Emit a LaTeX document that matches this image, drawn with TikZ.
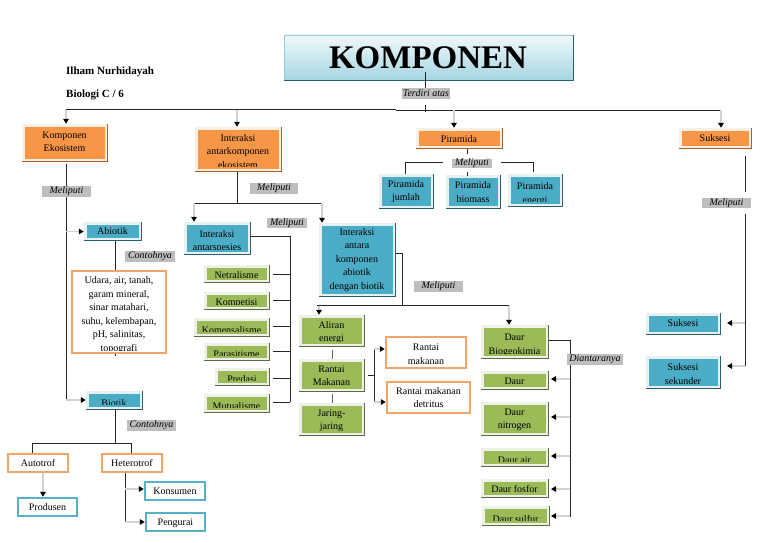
\documentclass[tikz,border=0pt]{standalone}
\usepackage{fontspec}
\setmainfont{Liberation Serif}
\usetikzlibrary{arrows.meta,fit}
\definecolor{Ofill}{HTML}{F79646}\definecolor{Olite}{HTML}{FBEFE3}\definecolor{Odark}{HTML}{A8602A}
\definecolor{Bfill}{HTML}{4BACC6}\definecolor{Blite}{HTML}{E6F1F4}\definecolor{Bdark}{HTML}{2A5F70}
\definecolor{Gfill}{HTML}{9BBB59}\definecolor{Glite}{HTML}{EEF1E6}\definecolor{Gdark}{HTML}{5C6B45}
\definecolor{lineO}{HTML}{F2A566}\definecolor{lineB}{HTML}{58AFC8}
\definecolor{tagc}{HTML}{BEBEBE}\definecolor{stem}{HTML}{D2D2D2}\definecolor{ink}{HTML}{262626}
\tikzset{
  boxtext/.style={inner sep=0pt,align=center,anchor=north,text=black,font=\fontsize{10}{13.5}\selectfont},
  tag/.style={fill=tagc,inner sep=0pt,text=black,font=\fontsize{10}{12}\selectfont\itshape},
  wire/.style={draw=ink,line width=.9pt},
  pale/.style={draw=stem,line width=1.4pt,-{Triangle[length=5pt,width=5.5pt,color=black]}},
  frame/.style={inner sep=0pt,draw=none},
}
% name, x0,y0,x1,y1, colour prefix, first-line y, text
\newcommand\bevelbox[8]{%
  \fill[#6lite] (#2,#3) rectangle (#4,#5);
  \draw[#6dark,line width=1.3pt] (#4-.6,#3) -- (#4-.6,#5-.6) -- (#2,#5-.6);
  \fill[#6fill] (#2+3,#3+3) rectangle (#4-3,#5-3.5);
  \begin{scope}
    \clip (#2+3,#3+3) rectangle (#4-3,#5-5.5);
    \node[boxtext] (#1t) at ({(#2+#4)/2-.5},{#7-7.15}) {\strut #8};
  \end{scope}
  \node[frame,fit={(#2,#3)(#4,#5)}] (#1) {};
}
\newcommand\linebox[8]{%
  \fill[white] (#2,#3) rectangle (#4,#5);
  \draw[#6,line width=2pt] (#2+1,#3+1) rectangle (#4-1,#5-1);
  \begin{scope}
    \clip (#2+2,#3+2) rectangle (#4-2,#5-4);
    \node[boxtext] (#1t) at ({(#2+#4)/2},{#7-7.15}) {\strut #8};
  \end{scope}
  \node[frame,fit={(#2,#3)(#4,#5)}] (#1) {};
}
\newcommand\tagbox[6]{%
  \node[tag,minimum width={(#4-#2)*1pt},minimum height={(#5-#3)*1pt}] (#1) at ({(#2+#4)/2},{(#3+#5)/2}) {#6};
}
\begin{document}
\begin{tikzpicture}[x=1pt,y=-1pt]
\useasboundingbox[fill=white] (0,0) rectangle (768,543);
% junctions
\coordinate (busA) at (66,109.5);
\coordinate (busB) at (237,109.5);
\coordinate (busC) at (454,110);
\coordinate (busD) at (721,110);
\coordinate (busM) at (425,110);
\coordinate (trunk) at (66,230);
\coordinate (abioticdrop) at (115,250);
\coordinate (bioticfork) at (115,443);
\coordinate (autoL) at (32,443);
\coordinate (heteroR) at (131,443);
\coordinate (heteroS) at (125,489);
\coordinate (heteroE) at (125,522);
\coordinate (intFork) at (237,203);
\coordinate (intL) at (194,203);
\coordinate (intR) at (322,203);
\coordinate (specRail) at (290,236);
\coordinate (specEnd) at (290,402);
\coordinate (abRail) at (402,253);
\coordinate (abBus) at (402,305.5);
\coordinate (abL) at (319,305.5);
\coordinate (abR) at (509,305.5);
\coordinate (rantaiOut) at (374,375);
\coordinate (rantaiTop) at (374,349);
\coordinate (rantaiBot) at (374,402);
\coordinate (daurRail) at (570,340);
\coordinate (daurEnd) at (570,517);
\coordinate (sukRail) at (745,200);
\coordinate (sukA) at (745,323);
\coordinate (sukB) at (745,366);
\coordinate (pirStem) at (467,160);
\coordinate (pirL) at (405,162);
\coordinate (pirLm) at (443,162);
\coordinate (pirR) at (533,162);
\coordinate (pirRm) at (501,162);
\coordinate (prodDrop) at (43,485);
\coordinate (midRant) at (332,375);

% title
\node[frame,draw=none,top color=white!92!Bfill,bottom color=Bfill!50,minimum width=289pt,minimum height=45pt] (title) at (428.5,57.5) {};
\draw[Bdark,line width=.9pt] (284,80) -- (573,80) -- (573,35);
\draw[Bfill!60,line width=.6pt] (284,80) -- (284,35) -- (573,35);
\node[inner sep=0pt,font=\fontsize{33}{33}\selectfont\bfseries,text=black] (titlet) at (428,57.5) {KOMPONEN};

% author
\node[inner sep=0pt,anchor=west,font=\fontsize{11}{13}\selectfont\bfseries] (author) at (66,72) {Ilham Nurhidayah};
\node[inner sep=0pt,anchor=west,font=\fontsize{11}{13}\selectfont\bfseries] (class) at (66,95) {Biologi C / 6};

% boxes
\bevelbox{komp}{22}{124}{108}{162}{O}{135.5}{Komponen\\Ekosistem}
\bevelbox{inter}{195}{127}{282}{172}{O}{138.5}{Interaksi\\antarkomponen\\ekosistem}
\bevelbox{pir}{416}{128}{503}{149}{O}{139.5}{Piramida}
\bevelbox{suk}{679}{128}{752}{149}{O}{138.5}{Suksesi}

\bevelbox{abio}{84}{222}{142}{241}{B}{232}{Abiotik}
\bevelbox{bio}{86}{391}{143}{410}{B}{403.5}{Biotik}
\bevelbox{spes}{184}{222}{251}{255}{B}{234.5}{Interaksi\\antarspesies}
\bevelbox{abbio}{319}{223}{396}{297}{B}{232.5}{Interaksi\\antara\\komponen\\abiotik\\dengan biotik}
\bevelbox{pj}{379}{174}{434}{209}{B}{184.5}{Piramida\\jumlah}
\bevelbox{pb}{446}{175}{501}{209}{B}{186}{Piramida\\biomass}
\bevelbox{pe}{508}{174}{563}{207}{B}{187}{Piramida\\energi}
\bevelbox{sa}{646}{313}{721}{335}{B}{323.5}{Suksesi}
\bevelbox{sb}{646}{356}{721}{389}{B}{368}{Suksesi\\sekunder}

\bevelbox{netr}{204}{265}{270}{283}{G}{275.5}{Netralisme}
\bevelbox{komt}{204}{292}{270}{310}{G}{302.5}{Kompetisi}
\bevelbox{kmsl}{194}{318}{270}{337}{G}{331}{Komensalisme}
\bevelbox{para}{204}{343}{270}{361}{G}{355}{Parasitisme}
\bevelbox{pred}{215}{368}{270}{386}{G}{379.5}{Predasi}
\bevelbox{mutu}{204}{394}{270}{413}{G}{406.5}{Mutualisme}
\bevelbox{alir}{299}{315}{365}{347}{G}{325.5}{Aliran\\energi}
\bevelbox{rant}{299}{359}{365}{392}{G}{369.5}{Rantai\\Makanan}
\bevelbox{jari}{299}{403}{365}{436}{G}{413.5}{Jaring-\\jaring}
\bevelbox{dbio}{481}{325}{549}{359}{G}{338}{Daur\\Biogeokimia}
\bevelbox{dka}{481}{371}{549}{390}{G}{382}{Daur}
\bevelbox{dni}{481}{402}{549}{436}{G}{412.5}{Daur\\nitrogen}
\bevelbox{dai}{481}{448}{549}{467}{G}{460.5}{Daur air}
\bevelbox{dfo}{481}{479}{549}{498}{G}{489.5}{Daur fosfor}
\bevelbox{dsu}{482}{506}{550}{526}{G}{519.5}{Daur sulfur}

% connectors under outlined boxes
\draw[wire] (abioticdrop |- abio.south) -- (115,356);

\linebox{udara}{71}{270}{167}{354}{lineO}{281}{Udara, air, tanah,\\garam mineral,\\sinar matahari,\\suhu, kelembapan,\\pH, salinitas,\\topografi}
\linebox{auto}{7}{453}{69}{473}{lineO}{463.5}{Autotrof}
\linebox{hete}{101}{453}{163}{473}{lineO}{463.5}{Heterotrof}
\linebox{prod}{17}{497}{78}{517}{lineB}{508}{Produsen}
\linebox{kons}{144}{481}{206}{501}{lineB}{492}{Konsumen}
\linebox{peng}{145}{512}{206}{532}{lineB}{522.5}{Pengurai}
\linebox{rmak}{385}{336}{467}{369}{lineO}{348}{Rantai\\makanan}
\linebox{rdet}{386}{381}{471}{414}{lineO}{391.5}{Rantai makanan\\detritus}

% tags
\tagbox{tagT}{402}{88}{450}{99}{Terdiri atas}
\tagbox{tagK}{42}{186}{91}{197}{Meliputi}
\tagbox{tagI}{250}{183}{298}{194}{Meliputi}
\tagbox{tagS}{267}{218}{307}{228}{Meliputi}
\tagbox{tagP}{452}{159}{492}{168}{Meliputi}
\tagbox{tagA}{414}{281}{463}{292}{Meliputi}
\tagbox{tagU}{702}{198}{751}{208}{Meliputi}
\tagbox{tagC1}{125}{251}{175}{262}{Contohnya}
\tagbox{tagC2}{127}{420}{176}{431}{Contohnya}
\tagbox{tagD}{567}{354}{623}{365}{Diantaranya}

% title to bus
\draw[wire] (busM |- title.south) ++(0,-8) -- (busM |- tagT.north);
\draw[wire] (busM |- tagT.south) ++(0,6) -- (425,112);
\draw[wire] (busA) -- (396,109.5);
\draw[wire] (396,110) -- (busD);
\draw[pale] (busA) -- (busA |- komp.north);
\draw[pale] (busB) -- (busB |- inter.north);
\draw[pale] (busC) -- (busC |- pir.north);
\draw[pale] (busD) -- (busD |- suk.north);

% komponen ekosistem branch
\draw[wire] (trunk |- 0,164) -- (trunk |- tagK.north);
\draw[wire] (trunk |- tagK.south) -- (trunk |- 0,400);
\draw[pale] (trunk |- abio.west) -- (abio.west);
\draw[pale] (trunk |- 0,400) -- (bio.west |- 0,400);
\draw[wire] (bioticfork |- bio.south) -- (bioticfork);
\draw[wire] (auto.north -| autoL) -- (autoL) -- (heteroR) -- (heteroR |- hete.north);
\draw[pale] (prodDrop |- auto.south) -- (prodDrop |- prod.north);
\draw[wire] (heteroS |- hete.south) -- (heteroE);
\draw[pale] (heteroS) -- (kons.west |- heteroS);
\draw[pale] (heteroE) -- (peng.west |- heteroE);

% interaksi branch
\draw[wire] (intFork |- inter.south) -- (intFork);
\draw[wire] (intL) -- (intR);
\draw[pale] (intL) -- (intL |- spes.north);
\draw[pale] (intR) -- (intR |- abbio.north);
\draw[wire] (specRail -| spes.east) -- (specRail) -- (specEnd);
\foreach \n/\yy in {netr/274,komt/300,kmsl/326,para/351,pred/378,mutu/402}{
  \draw[wire] (273,\yy) -- (specRail |- 0,\yy);
}
\draw[wire] (abRail -| abbio.east) -- (abRail) -- (abBus);
\draw[wire] (abL |- abBus) ++(-2,0) -- (abR);
\draw[pale] (abL) -- (abL |- alir.north);
\draw[pale] (abR) -- (abR |- dbio.north);
\draw[wire,draw=Gdark] (midRant |- alir.south) ++(0,3) -- (midRant |- rant.north);
\draw[wire,draw=Gdark] (midRant |- rant.south) ++(0,2) -- (midRant |- jari.north);
\draw[wire] (rant.east |- rantaiOut) ++(3,0) -- (rantaiOut);
\draw[wire] (rantaiTop) -- (rantaiBot);
\draw[pale] (rantaiTop) -- (rmak.west |- rantaiTop);
\draw[pale] (rantaiBot) -- (rdet.west |- rantaiBot);

% daur
\draw[wire] (daurRail -| dbio.east) -- (daurRail) -- (daurRail |- tagD.north);
\draw[wire] (daurRail |- tagD.south) -- (daurEnd);
\foreach \n/\yy in {dka/379,dni/417,dai/456,dfo/489,dsu/516}{
  \draw[pale] (daurRail |- 0,\yy) -- (551,\yy);
}

% suksesi
\draw[wire] (745,156) -- (745,192);
\draw[wire] (745,214) -- (sukB);
\draw[pale] (sukA) -- (727,323);
\draw[pale] (sukB) -- (727,366);

% piramida
\draw[wire] (pirStem |- pir.south) -- (467,154);
\draw[wire] (467,172) -- (467,176);
\draw[wire] (pirL |- pj.north) -- (pirL) -- (pirLm);
\draw[wire] (pirR |- pe.north) ++(0,-2) -- (pirR) -- (pirRm);
\end{tikzpicture}
\end{document}
